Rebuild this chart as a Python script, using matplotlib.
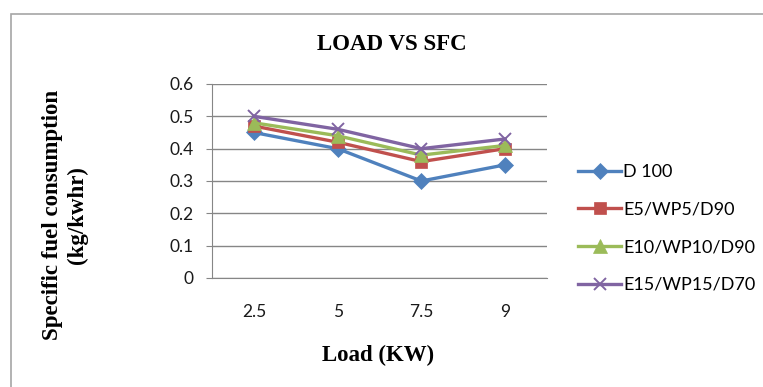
import matplotlib
matplotlib.use("Agg")
import matplotlib.pyplot as plt
from matplotlib.patches import Rectangle

# ── data ──
loads = ["2.5", "5", "7.5", "9"]
d100 = [0.45, 0.40, 0.30, 0.35]
e5 = [0.47, 0.42, 0.36, 0.40]
e10 = [0.48, 0.44, 0.38, 0.41]
e15 = [0.50, 0.46, 0.40, 0.43]
series_names = ["D 100", "E5/WP5/D90", "E10/WP10/D90", "E15/WP15/D70"]
y_ticks = [0, 0.1, 0.2, 0.3, 0.4, 0.5, 0.6]
y_tick_labels = ["0", "0.1", "0.2", "0.3", "0.4", "0.5", "0.6"]

SERIF = ["Liberation Serif", "DejaVu Serif"]
SANS = ["Lato", "DejaVu Sans"]

fig = plt.figure(figsize=(7.63, 3.87), dpi=100)
fig.patch.set_facecolor("white")

# outer chart frame (cut off at right/bottom like the source)
fig.patches.append(Rectangle((11 / 763, -0.05), 1.2, 1 - 14 / 387 + 0.05,
                             transform=fig.transFigure, fill=False,
                             edgecolor="#a6a6a6", linewidth=1.2))

ax = fig.add_axes([212 / 763, 1 - 278 / 387, 335 / 763, 194 / 387])

styles = [
    (d100, "#4F81BD", "D", 8),
    (e5, "#C0504D", "s", 8.5),
    (e10, "#9BBB59", "^", 9.5),
    (e15, "#8064A2", "x", 9),
]
x = list(range(len(loads)))
for (vals, col, mk, ms), name in zip(styles, series_names):
    ax.plot(x, vals, color=col, linewidth=2.4, marker=mk, markersize=ms,
            markeredgewidth=1.4 if mk == "x" else 0.5, markeredgecolor=col,
            label=name)

ax.set_xlim(-0.5, len(loads) - 0.5)
ax.set_ylim(0, 0.6)
ax.set_yticks(y_ticks)
ax.set_yticklabels(y_tick_labels, family=SANS, fontsize=12.5, color="#1a1a1a")
ax.set_xticks(x)
ax.set_xticklabels(loads, family=SANS, fontsize=12.5, color="#1a1a1a")
ax.tick_params(axis="y", length=4, color="#868686", pad=9)
ax.tick_params(axis="x", length=0, pad=19)
ax.grid(axis="y", color="#868686", linewidth=1.0)
ax.set_axisbelow(True)
for s in ["top", "right"]:
    ax.spines[s].set_visible(False)
ax.spines["left"].set_color("#868686")
ax.spines["bottom"].set_color("#868686")

fig.text(392 / 763, 1 - 45 / 387, "LOAD VS SFC", family=SERIF,
         fontweight="bold", fontsize=16.5, ha="center", va="center")
fig.text(378 / 763, 1 - 355 / 387, "Load (KW)", family=SERIF,
         fontweight="bold", fontsize=16.5, ha="center", va="center")
fig.text(65 / 763, 1 - 215 / 387, "Specific fuel consumption\n(kg/kwhr)",
         family=SERIF, fontweight="bold", fontsize=16.5, ha="center",
         va="center", rotation=90, multialignment="center", linespacing=1.2)

fig.legend(loc="upper left", bbox_to_anchor=(578 / 763, 1 - 164 / 387),
           frameon=False, prop={"family": SANS, "size": 13},
           handlelength=2.4, handletextpad=0.1, labelspacing=1.2,
           borderaxespad=0, borderpad=0)

fig.savefig("out.png", dpi=100)
